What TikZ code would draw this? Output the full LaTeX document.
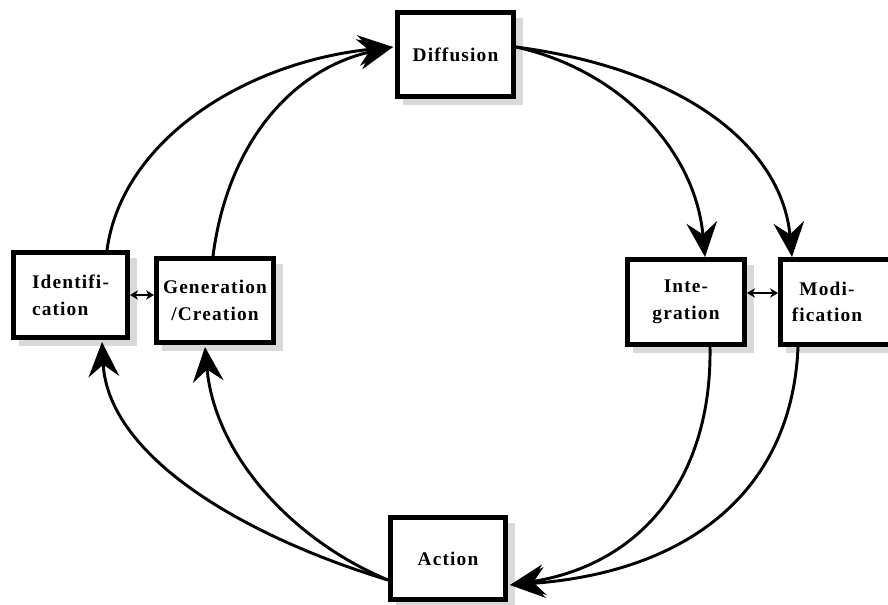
\documentclass[tikz,border=0pt]{standalone}
\usepackage{fontspec}
\usetikzlibrary{arrows.meta,calc,backgrounds}
\newfontfamily\lblfont[LetterSpace=6]{Liberation Serif}
\begin{document}
\begin{tikzpicture}[x=0.75pt,y=-0.75pt,
 box/.style={draw, line width=3.75pt, fill=white, inner sep=0pt, align=center,
   font=\lblfont\bfseries\fontsize{14.5}{20}\selectfont},
 lbl/.style={inner sep=0pt, align=center, font=\lblfont\bfseries\fontsize{14.5}{20}\selectfont},
 flow/.style={line width=2.2pt, -{Stealth[length=26pt,width=23pt,inset=9pt]}},
 link/.style={line width=1.5pt, {Stealth[length=6pt,width=7pt]}-{Stealth[length=6pt,width=7pt]}},
 shadowfill/.style={fill=gray!30, draw=none}]
\useasboundingbox (0,0) rectangle (888,605);

\node[box, minimum width=87pt, minimum height=63pt] (d) at (455.5,54.5) {Diffusion};
\node[box, minimum width=85.5pt, minimum height=63.75pt, align=left] (i) at (70.5,295) {Identifi-\\cation};
\node[box, minimum width=87.75pt, minimum height=63pt] (g) at (215,300.5) {Generation\\/Creation};
\node[box, minimum width=87.75pt, minimum height=63.75pt] (n) at (686,302) {Inte-\\gration};
\node[box, minimum width=87.75pt, minimum height=63.75pt] (m) at (839,302) {};
\node[lbl] (mt) at (827,302) {Modi-\\fication};
\node[box, minimum width=86.25pt, minimum height=61.5pt] (a) at (448,558.5) {Action};

\begin{scope}[on background layer]
 \foreach \b in {d,i,g,n,m,a}{
   \fill[shadowfill] ($(\b.north east)+(0,8)$) rectangle ($(\b.south east)+(7,6)$);
   \fill[shadowfill] ($(\b.south west)+(8,0)$) rectangle ($(\b.south east)+(7,6)$);
 }
\end{scope}

% left top arcs
\draw[flow] ($(i.north)+(36.5,0)$) .. controls (122,140) and (245,62) .. ($(d.west)+(-2,-7.5)$);
\draw[flow] ($(g.north)+(-2,0)$) .. controls (228,140) and (295,68) .. ($(d.west)+(-2,-7.5)$);
% right top arcs
\draw[flow] ($(d.east)+(0,-7.5)$) .. controls (620,70) and (695,150) .. ($(n.north)+(19,0)$);
\draw[flow] ($(d.east)+(0,-7.5)$) .. controls (690,70) and (782,150) .. ($(m.north)+(-47,0)$);
% right bottom arcs
\draw[flow] ($(n.south)+(24,0)$) .. controls (712,480) and (640,565) .. ($(a.east)+(2,26.5)$);
\draw[flow] ($(m.south)+(-41,0)$) .. controls (792,490) and (690,572) .. ($(a.east)+(2,26.5)$);
% left bottom arcs
\draw[flow] ($(a.west)+(0,21.5)$) .. controls (240,535) and (108,455) .. ($(i.south)+(31.5,2)$);
\draw[flow] ($(a.west)+(0,21.5)$) .. controls (292,540) and (215,455) .. ($(g.south)+(-10,2)$);

% two-way links
\draw[link] (i.east) -- (i.east -| g.west);
\coordinate (nm) at ($(n.east)+(0,-9)$);
\draw[link] (nm) -- (nm -| m.west);
\end{tikzpicture}
\end{document}
